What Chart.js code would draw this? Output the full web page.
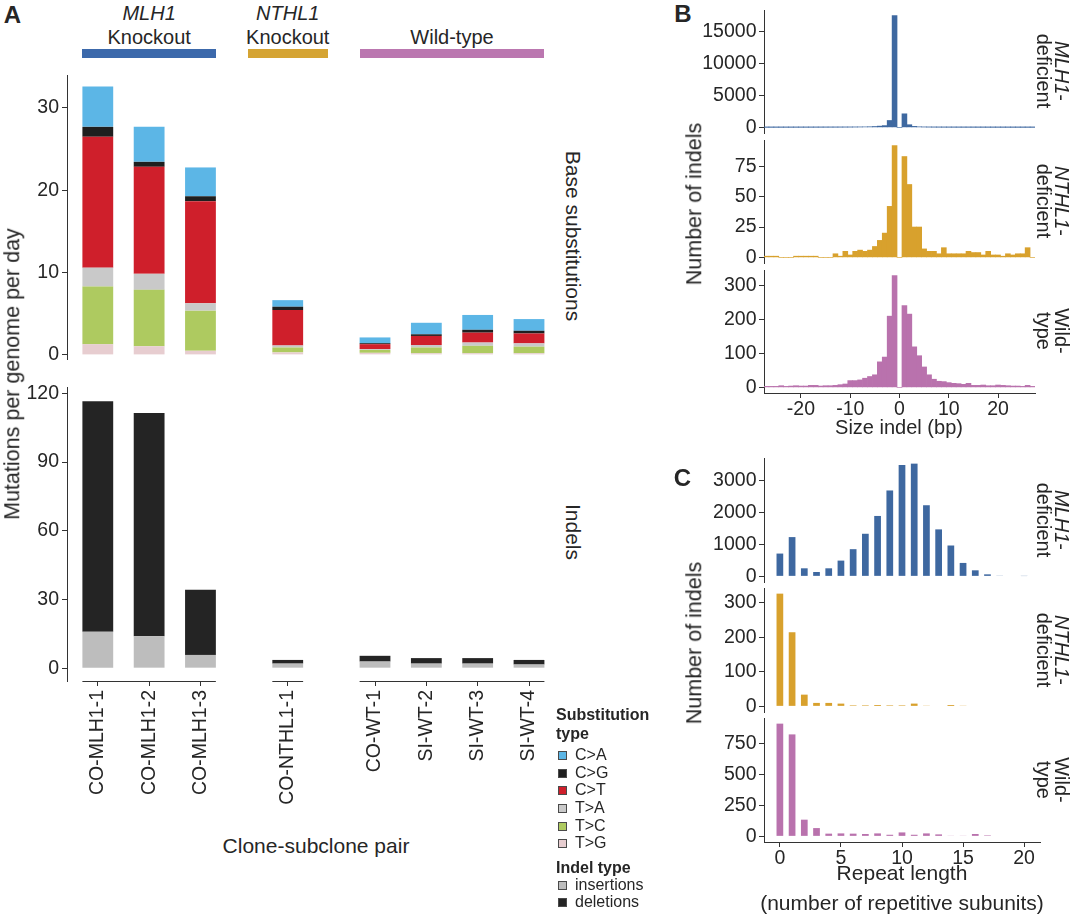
<!DOCTYPE html>
<html>
<head>
<meta charset="utf-8">
<title>Mutation rates and indel spectra</title>
<script src="https://cdn.jsdelivr.net/npm/chart.js@4.4.1/dist/chart.umd.min.js"></script>
<style>
  html, body { margin:0; padding:0; background:#ffffff; }
  body { position:relative; width:1080px; height:914px; overflow:hidden;
         font-family:"Liberation Sans", Arial, Helvetica, sans-serif; color:#262626; }
  canvas { position:absolute; }
  .lbl { position:absolute; white-space:nowrap; line-height:1; text-align:center; }
  .sw { position:absolute; width:7px; height:7px; border:1px solid #4a4a4a; }
  .hb { position:absolute; height:9px; }
</style>
</head>
<body>
<script>
// ======================= DATA =======================
// Panel A
const clones = ['CO-MLH1-1','CO-MLH1-2','CO-MLH1-3','CO-NTHL1-1','CO-WT-1','SI-WT-2','SI-WT-3','SI-WT-4'];
const cloneGroup = [0,0,0,1,2,2,2,2];
const groupGene = ['MLH1','NTHL1',''];
const groupKind = ['Knockout','Knockout','Wild-type'];
const subTypes = ['C>A','C>G','C>T','T>A','T>C','T>G'];
const subCA = [4.9, 4.25, 3.5, 0.8, 0.7, 1.4, 1.8, 1.42];
const subCG = [1.2, 0.6, 0.6, 0.4, 0.12, 0.2, 0.35, 0.33];
const subCT = [15.9, 13.0, 12.4, 4.3, 0.6, 1.1, 1.2, 1.2];
const subTA = [2.3, 1.95, 0.9, 0.25, 0.1, 0.3, 0.4, 0.4];
const subTC = [7.0, 6.85, 4.87, 0.6, 0.35, 0.7, 0.9, 0.8];
const subTG = [1.3, 1.05, 0.5, 0.3, 0.25, 0.2, 0.2, 0.2];
const indelTypes = ['insertions','deletions'];
const indelIns = [15.9, 13.9, 5.8, 2.0, 2.9, 2.0, 2.0, 1.6];
const indelDel = [100.7, 97.5, 28.4, 1.6, 2.5, 2.4, 2.4, 2.0];
const subTicks = [0, 10, 20, 30];
const indelTicks = [0, 30, 60, 90, 120];

// Panel B (indel size histograms)
const indelSizes = [-27,-26,-25,-24,-23,-22,-21,-20,-19,-18,-17,-16,-15,-14,-13,-12,-11,-10,-9,-8,-7,-6,-5,-4,-3,-2,-1,
                    0,1,2,3,4,5,6,7,8,9,10,11,12,13,14,15,16,17,18,19,20,21,22,23,24,25,26,27];
const sizeMLH1 = [8,8,10,10,12,12,14,15,16,18,20,22,25,28,30,35,40,45,55,65,80,100,140,200,280,1080,17430,
                  0,2120,420,160,90,60,45,35,30,25,22,20,18,16,15,14,12,12,10,10,9,8,8,7,7,6,6,5];
const sizeNTHL1 = [1,1,1,0,0,0,1,1,1,1,1,0,0,0,3,1,5,2,5,6,5,6,9,14,20,42,92,
                   0,83,60,25,25,7,5,5,3,8,3,3,3,3,5,4,4,2,5,2,2,1,3,2,3,3,8,0];
const sizeWT = [3,3,3,5,3,4,5,4,4,6,6,4,5,5,6,8,10,20,20,22,27,32,37,75,89,209,328,
                0,240,215,119,93,60,37,24,18,17,14,12,11,9,12,6,6,7,5,5,7,6,5,4,4,3,6,3];
const sizeTicks = [-20, -10, 0, 10, 20];
const sizeTicksMLH1 = [0, 5000, 10000, 15000];
const sizeTicksNTHL1 = [0, 25, 50, 75];
const sizeTicksWT = [0, 100, 200, 300];

// Panel C (repeat length)
const repeatLengths = [0,1,2,3,4,5,6,7,8,9,10,11,12,13,14,15,16,17,18,19,20];
const repMLH1 = [713,1228,252,136,252,493,850,1332,1889,2686,3483,3525,2224,1469,965,420,189,63,20,15,10];
const repNTHL1 = [327,215,34,10,10,8,3,3,4,3,3,8,2,0,4,2,0,0,0,0,0];
const repWT = [912,825,135,67,22,24,22,19,24,13,32,13,24,16,5,5,19,8,0,0,0];
const repTicks = [0, 5, 10, 15, 20];
const repTicksMLH1 = [0, 1000, 2000, 3000];
const repTicksNTHL1 = [0, 100, 200, 300];
const repTicksWT = [0, 250, 500, 750];

// ======================= STYLE =======================
const FONT = '"Liberation Sans", Arial, Helvetica, sans-serif';
const AXIS = '#333333', TXT = '#262626';
const subColors = {'C>A':'#5cb6e6','C>G':'#1f1f1f','C>T':'#cf1f2b','T>A':'#c9c9c9','T>C':'#aeca60','T>G':'#e7cdd0'};
const indelColors = {'insertions':'#bdbdbd','deletions':'#242424'};
const groupHeaderColors = ['#3c69ab','#d5a433','#bb77b0'];
const facetColors = {MLH1:'#3e68a0', NTHL1:'#d8a12d', WT:'#b972ad'};
const GROUP_GAP = 0.7;     // extra spacing (in bar units) between facets of panel A
const BAR_FRAC = 0.6;      // bar width in panel A as fraction of spacing

Chart.defaults.font.family = FONT;
Chart.defaults.color = TXT;

// ======================= HELPERS =======================
function label(html, cx, cy, o = {}) {
  const d = document.createElement('div');
  d.className = 'lbl';
  d.innerHTML = html;
  d.style.fontSize = (o.size || 20) + 'px';
  if (o.bold) d.style.fontWeight = 'bold';
  if (o.italic) d.style.fontStyle = 'italic';
  if (o.lh) d.style.lineHeight = o.lh + 'px';
  d.style.left = cx + 'px';
  d.style.top = cy + 'px';
  const ax = o.anchor === 'left' ? '0' : '-50%';
  d.style.transform = 'translate(' + ax + ',-50%)' + (o.rot ? ' rotate(' + o.rot + 'deg)' : '');
  document.body.appendChild(d);
  return d;
}
const esc = s => s.replace(/&/g,'&amp;').replace(/</g,'&lt;').replace(/>/g,'&gt;');

function makeFacet(cfg) {
  const {area, yW, xH, pad, datasets, x, y, plugins} = cfg;
  const W = area.x1 - area.x0 + yW + pad.r;
  const H = area.y1 - area.y0 + pad.t + xH + pad.b;
  const c = document.createElement('canvas');
  c.width = W; c.height = H;
  c.style.left = (area.x0 - yW) + 'px';
  c.style.top = (area.y0 - pad.t) + 'px';
  c.style.width = W + 'px';
  c.style.height = H + 'px';
  document.body.appendChild(c);
  const tickFont = {size: 19.5, family: FONT, lineHeight: 1};
  return new Chart(c, {
    type: 'bar',
    data: {datasets},
    options: {
      responsive: false, animation: false, devicePixelRatio: 1,
      layout: {padding: {left: 0, top: pad.t, right: pad.r, bottom: pad.b}},
      plugins: {legend: {display: false}, tooltip: {enabled: false}},
      datasets: {bar: {categoryPercentage: x.catPct, barPercentage: 1, borderWidth: 0}},
      scales: {
        x: {
          type: 'linear', display: x.show, min: x.min, max: x.max, offset: false, stacked: true,
          grid: {offset: false, drawOnChartArea: false, drawTicks: true, tickLength: 5, color: AXIS, lineWidth: 1},
          border: {display: !!x.border, color: AXIS, width: 1},
          ticks: {autoSkip: false, padding: x.pad || 1, font: tickFont, color: TXT,
                  minRotation: x.rot || 0, maxRotation: x.rot || 0,
                  callback: x.fmt || (v => String(v))},
          afterBuildTicks: s => { s.ticks = x.ticks.map(v => ({value: v})); },
          afterFit: s => { s.height = xH; s.paddingLeft = 0; s.paddingRight = 0; }
        },
        y: {
          type: 'linear', min: y.min, max: y.max, stacked: true,
          grid: {drawOnChartArea: false, drawTicks: true, tickLength: 5, color: AXIS, lineWidth: 1},
          border: {display: true, color: AXIS, width: 1},
          ticks: {padding: y.pad || 3, font: tickFont, color: TXT, callback: v => String(v)},
          afterBuildTicks: s => { s.ticks = y.ticks.map(v => ({value: v})); },
          afterFit: s => { s.width = yW; s.paddingTop = 0; s.paddingBottom = 0; }
        }
      }
    },
    plugins: plugins || []
  });
}

// ======================= PANEL A =======================
const xPos = clones.map((_, i) => i + cloneGroup[i] * GROUP_GAP);
const groupExt = groupKind.map((_, g) => {
  const p = xPos.filter((_, i) => cloneGroup[i] === g);
  return [Math.min(...p) - BAR_FRAC / 2, Math.max(...p) + BAR_FRAC / 2];
});
const A_XMIN = -0.6, A_XMAX = 8.77;

const subSeries = {'C>A': subCA, 'C>G': subCG, 'C>T': subCT, 'T>A': subTA, 'T>C': subTC, 'T>G': subTG};
const subDatasets = subTypes.slice().reverse().map(t => ({
  label: t, backgroundColor: subColors[t],
  data: xPos.map((p, i) => ({x: p, y: subSeries[t][i]}))
}));
const indelSeries = {insertions: indelIns, deletions: indelDel};
const indelDatasets = indelTypes.map(t => ({
  label: t, backgroundColor: indelColors[t],
  data: xPos.map((p, i) => ({x: p, y: indelSeries[t][i]}))
}));

const chartA1 = makeFacet({
  area: {x0: 67, x1: 548, y0: 75, y1: 359}, yW: 67, xH: 0, pad: {t: 10, r: 12, b: 10},
  datasets: subDatasets,
  x: {show: false, min: A_XMIN, max: A_XMAX, ticks: xPos, catPct: BAR_FRAC},
  y: {min: -0.5, max: 34.0, ticks: subTicks, pad: 3}
});

const segAxis = {
  id: 'segAxis',
  afterDraw(chart) {
    const {ctx, chartArea, scales} = chart;
    ctx.save();
    ctx.strokeStyle = AXIS; ctx.lineWidth = 1;
    groupExt.forEach(([a, b]) => {
      ctx.beginPath();
      ctx.moveTo(scales.x.getPixelForValue(a), Math.round(chartArea.bottom) + 0.5);
      ctx.lineTo(scales.x.getPixelForValue(b), Math.round(chartArea.bottom) + 0.5);
      ctx.stroke();
    });
    ctx.restore();
  }
};
const chartA2 = makeFacet({
  area: {x0: 67, x1: 548, y0: 387, y1: 681}, yW: 67, xH: 140, pad: {t: 10, r: 12, b: 5},
  datasets: indelDatasets,
  x: {show: true, border: false, min: A_XMIN, max: A_XMAX, ticks: xPos, catPct: BAR_FRAC, rot: 90, pad: 4,
      fmt: v => { const i = xPos.findIndex(p => Math.abs(p - v) < 1e-6); return i >= 0 ? clones[i] : ''; }},
  y: {min: -5.6, max: 122.8, ticks: indelTicks, pad: 3},
  plugins: [segAxis]
});

// Group headers (positioned from the chart's own x scale)
groupKind.forEach((k, g) => {
  const sx = chartA1.scales.x;
  const a = sx.getPixelForValue(groupExt[g][0]);
  const b = sx.getPixelForValue(groupExt[g][1]);
  const cx = (a + b) / 2;
  const w = Math.max(b - a, 80);
  const bar = document.createElement('div');
  bar.className = 'hb';
  bar.style.left = (cx - w / 2) + 'px';
  bar.style.width = w + 'px';
  bar.style.top = '49px';
  bar.style.background = groupHeaderColors[g];
  document.body.appendChild(bar);
  if (groupGene[g]) label(groupGene[g], cx, 13, {size: 20, italic: true});
  label(k, cx, 37, {size: 20});
});

label('A', 12.5, 15, {size: 24, bold: true});
label('Mutations per genome per day', 13, 374, {size: 21.5, rot: -90});
label('Base substitutions', 573, 236, {size: 21, rot: 90});
label('Indels', 573, 532, {size: 21, rot: 90});
label('Clone-subclone pair', 316, 845, {size: 21});

// Legend
label('Substitution', 556, 715, {size: 16, bold: true, anchor: 'left'});
label('type', 556, 734, {size: 16, bold: true, anchor: 'left'});
const legY = [755, 773, 790, 808, 826, 843];
subTypes.forEach((t, i) => {
  const s = document.createElement('div');
  s.className = 'sw';
  s.style.left = '558px'; s.style.top = (legY[i] - 4.5) + 'px';
  s.style.background = subColors[t];
  document.body.appendChild(s);
  label(esc(t), 575, legY[i], {size: 16, anchor: 'left'});
});
label('Indel type', 556, 868, {size: 16, bold: true, anchor: 'left'});
const legY2 = [885, 902];
indelTypes.forEach((t, i) => {
  const s = document.createElement('div');
  s.className = 'sw';
  s.style.left = '558px'; s.style.top = (legY2[i] - 4.5) + 'px';
  s.style.background = indelColors[t];
  document.body.appendChild(s);
  label(t, 575, legY2[i], {size: 16, anchor: 'left'});
});

// ======================= PANEL B =======================
function histFacet(xs, vals, color, area, yTicks, xOpts) {
  const m = Math.max(...vals);
  return makeFacet({
    area, yW: 64, xH: xOpts.xH, pad: {t: 5, r: 6, b: 3},
    datasets: [{backgroundColor: color, data: xs.map((v, i) => ({x: v, y: vals[i]}))}],
    x: Object.assign({show: xOpts.show, border: xOpts.show, catPct: xOpts.catPct, pad: 2}, xOpts),
    y: {min: -0.05 * m, max: 1.05 * m, ticks: yTicks, pad: 2.5}
  });
}
const bX = {min: -27.5, max: 27.5, ticks: sizeTicks, catPct: 1};
histFacet(indelSizes, sizeMLH1, facetColors.MLH1, {x0: 764, x1: 1035, y0: 10, y1: 133}, sizeTicksMLH1, Object.assign({}, bX, {show: false, xH: 0}));
histFacet(indelSizes, sizeNTHL1, facetColors.NTHL1, {x0: 764, x1: 1035, y0: 140, y1: 263}, sizeTicksNTHL1, Object.assign({}, bX, {show: false, xH: 0}));
histFacet(indelSizes, sizeWT, facetColors.WT, {x0: 764, x1: 1035, y0: 270, y1: 393}, sizeTicksWT, Object.assign({}, bX, {show: true, xH: 26}));

label('B', 683, 14, {size: 24, bold: true});
label('Number of indels', 695, 204, {size: 21.5, rot: -90});
label('Size indel (bp)', 899, 427, {size: 20});
label('<i>MLH1</i>-<br>deficient', 1052, 71, {size: 20, rot: 90, lh: 17.5});
label('<i>NTHL1</i>-<br>deficient', 1052, 201, {size: 20, rot: 90, lh: 17.5});
label('Wild-<br>type', 1052, 331, {size: 20, rot: 90, lh: 17.5});

// ======================= PANEL C =======================
const cX = {min: -1.3, max: 21.3, ticks: repTicks, catPct: 0.55};
histFacet(repeatLengths, repMLH1, facetColors.MLH1, {x0: 764, x1: 1040, y0: 458, y1: 582}, repTicksMLH1, Object.assign({}, cX, {show: false, xH: 0}));
histFacet(repeatLengths, repNTHL1, facetColors.NTHL1, {x0: 764, x1: 1040, y0: 588, y1: 712}, repTicksNTHL1, Object.assign({}, cX, {show: false, xH: 0}));
histFacet(repeatLengths, repWT, facetColors.WT, {x0: 764, x1: 1040, y0: 718, y1: 842}, repTicksWT, Object.assign({}, cX, {show: true, xH: 26}));

label('C', 682.5, 478, {size: 24, bold: true});
label('Number of indels', 695, 643, {size: 21.5, rot: -90});
label('Repeat length', 902, 872, {size: 21});
label('(number of repetitive subunits)', 902, 902, {size: 21});
label('<i>MLH1</i>-<br>deficient', 1052, 520, {size: 20, rot: 90, lh: 17.5});
label('<i>NTHL1</i>-<br>deficient', 1052, 650, {size: 20, rot: 90, lh: 17.5});
label('Wild-<br>type', 1052, 780, {size: 20, rot: 90, lh: 17.5});
</script>
</body>
</html>
